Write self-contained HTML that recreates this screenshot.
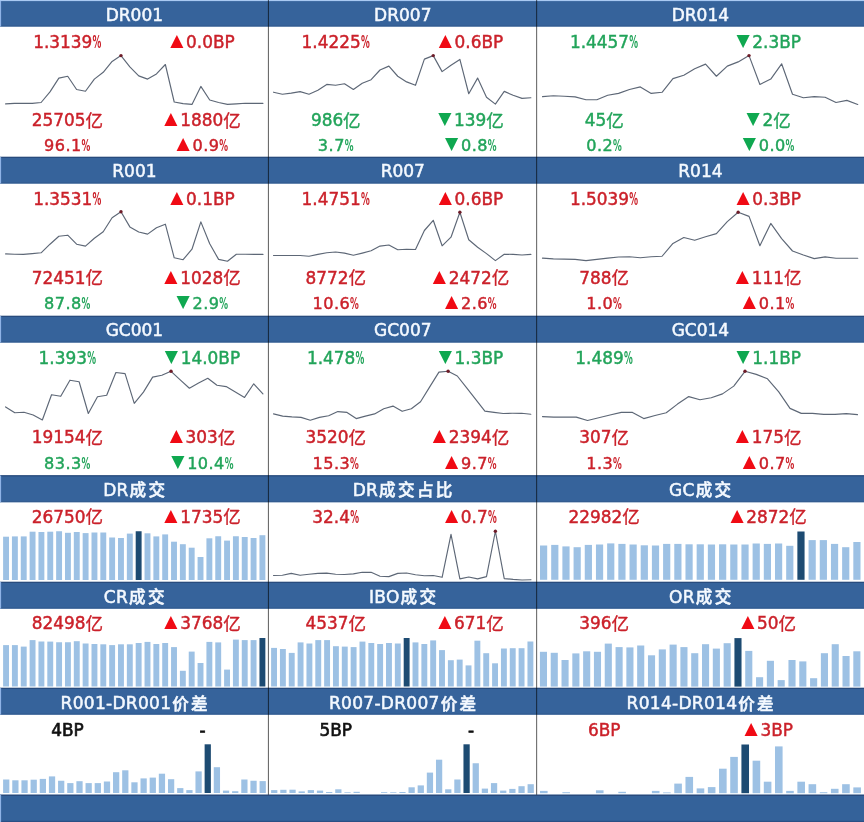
<!DOCTYPE html>
<html lang="zh"><head><meta charset="utf-8"><title>dashboard</title>
<style>
html,body{margin:0;padding:0;background:#fff;}
svg{display:block;font-family:"Liberation Sans","Noto Sans CJK SC",sans-serif;}
</style></head><body>
<svg width="864" height="822" viewBox="0 0 864 822">
<rect x="0" y="0" width="864" height="822" fill="#ffffff"/>
<rect x="0" y="0" width="864" height="26.50" fill="#36639b"/>
<rect x="0" y="25.30" width="864" height="1.2" fill="#335c90"/>
<rect x="0" y="157" width="864" height="26.50" fill="#36639b"/>
<rect x="0" y="156.70" width="864" height="1.2" fill="#27497a"/>
<rect x="0" y="182.30" width="864" height="1.2" fill="#335c90"/>
<rect x="0" y="316" width="864" height="26.50" fill="#36639b"/>
<rect x="0" y="315.70" width="864" height="1.2" fill="#27497a"/>
<rect x="0" y="341.30" width="864" height="1.2" fill="#335c90"/>
<rect x="0" y="475.5" width="864" height="26.70" fill="#36639b"/>
<rect x="0" y="475.20" width="864" height="1.2" fill="#27497a"/>
<rect x="0" y="501.00" width="864" height="1.2" fill="#335c90"/>
<rect x="0" y="582" width="864" height="26.60" fill="#36639b"/>
<rect x="0" y="581.70" width="864" height="1.2" fill="#27497a"/>
<rect x="0" y="607.40" width="864" height="1.2" fill="#335c90"/>
<rect x="0" y="688" width="864" height="26.60" fill="#36639b"/>
<rect x="0" y="687.70" width="864" height="1.2" fill="#27497a"/>
<rect x="0" y="713.40" width="864" height="1.2" fill="#335c90"/>
<rect x="0" y="0" width="864" height="1.1" fill="#a9c9f2"/>
<rect x="0" y="794.8" width="864" height="27.20" fill="#34629a"/>
<rect x="0" y="794.60" width="864" height="1.3" fill="#27497a"/>
<rect x="0" y="820.8" width="864" height="1.2" fill="#2a4f85"/>
<rect x="0" y="1.00" width="1.1" height="25.50" fill="#8fb3e6"/>
<rect x="0" y="157.00" width="1.1" height="26.50" fill="#8fb3e6"/>
<rect x="0" y="316.00" width="1.1" height="26.50" fill="#8fb3e6"/>
<rect x="0" y="475.50" width="1.1" height="26.70" fill="#8fb3e6"/>
<rect x="0" y="582.00" width="1.1" height="26.60" fill="#8fb3e6"/>
<rect x="0" y="688.00" width="1.1" height="26.60" fill="#8fb3e6"/>
<rect x="0" y="794.80" width="1.1" height="27.20" fill="#8fb3e6"/>
<text x="134.4" y="20.7" text-anchor="middle" fill="#f4f9ff" stroke="#f4f9ff" stroke-width="0.5" font-family="'Liberation Sans','Noto Sans CJK SC',sans-serif"><tspan font-size="17.0" letter-spacing="0.0" font-family="'DejaVu Sans','Liberation Sans',sans-serif">DR001</tspan></text>
<text x="402.8" y="20.7" text-anchor="middle" fill="#f4f9ff" stroke="#f4f9ff" stroke-width="0.5" font-family="'Liberation Sans','Noto Sans CJK SC',sans-serif"><tspan font-size="17.0" letter-spacing="0.0" font-family="'DejaVu Sans','Liberation Sans',sans-serif">DR007</tspan></text>
<text x="700.4" y="20.7" text-anchor="middle" fill="#f4f9ff" stroke="#f4f9ff" stroke-width="0.5" font-family="'Liberation Sans','Noto Sans CJK SC',sans-serif"><tspan font-size="17.0" letter-spacing="0.0" font-family="'DejaVu Sans','Liberation Sans',sans-serif">DR014</tspan></text>
<text x="134.4" y="177.3" text-anchor="middle" fill="#f4f9ff" stroke="#f4f9ff" stroke-width="0.5" font-family="'Liberation Sans','Noto Sans CJK SC',sans-serif"><tspan font-size="17.0" letter-spacing="0.0" font-family="'DejaVu Sans','Liberation Sans',sans-serif">R001</tspan></text>
<text x="402.8" y="177.3" text-anchor="middle" fill="#f4f9ff" stroke="#f4f9ff" stroke-width="0.5" font-family="'Liberation Sans','Noto Sans CJK SC',sans-serif"><tspan font-size="17.0" letter-spacing="0.0" font-family="'DejaVu Sans','Liberation Sans',sans-serif">R007</tspan></text>
<text x="700.4" y="177.3" text-anchor="middle" fill="#f4f9ff" stroke="#f4f9ff" stroke-width="0.5" font-family="'Liberation Sans','Noto Sans CJK SC',sans-serif"><tspan font-size="17.0" letter-spacing="0.0" font-family="'DejaVu Sans','Liberation Sans',sans-serif">R014</tspan></text>
<text x="134.4" y="336.3" text-anchor="middle" fill="#f4f9ff" stroke="#f4f9ff" stroke-width="0.5" font-family="'Liberation Sans','Noto Sans CJK SC',sans-serif"><tspan font-size="17.0" letter-spacing="0.0" font-family="'DejaVu Sans','Liberation Sans',sans-serif">GC001</tspan></text>
<text x="402.8" y="336.3" text-anchor="middle" fill="#f4f9ff" stroke="#f4f9ff" stroke-width="0.5" font-family="'Liberation Sans','Noto Sans CJK SC',sans-serif"><tspan font-size="17.0" letter-spacing="0.0" font-family="'DejaVu Sans','Liberation Sans',sans-serif">GC007</tspan></text>
<text x="700.4" y="336.3" text-anchor="middle" fill="#f4f9ff" stroke="#f4f9ff" stroke-width="0.5" font-family="'Liberation Sans','Noto Sans CJK SC',sans-serif"><tspan font-size="17.0" letter-spacing="0.0" font-family="'DejaVu Sans','Liberation Sans',sans-serif">GC014</tspan></text>
<text x="135.3" y="495.7" text-anchor="middle" fill="#f4f9ff" stroke="#f4f9ff" stroke-width="0.5" font-family="'Liberation Sans','Noto Sans CJK SC',sans-serif"><tspan font-size="17.0" letter-spacing="0.3" font-family="'DejaVu Sans','Liberation Sans',sans-serif">DR</tspan><tspan font-size="16.6" font-weight="500" letter-spacing="2.3" dx="0.9" dy="0.4" font-family="'Liberation Sans','Noto Sans CJK SC',sans-serif">成交</tspan></text>
<text x="403.7" y="495.7" text-anchor="middle" fill="#f4f9ff" stroke="#f4f9ff" stroke-width="0.5" font-family="'Liberation Sans','Noto Sans CJK SC',sans-serif"><tspan font-size="17.0" letter-spacing="0.3" font-family="'DejaVu Sans','Liberation Sans',sans-serif">DR</tspan><tspan font-size="16.6" font-weight="500" letter-spacing="2.3" dx="0.9" dy="0.4" font-family="'Liberation Sans','Noto Sans CJK SC',sans-serif">成交占比</tspan></text>
<text x="701.3" y="495.7" text-anchor="middle" fill="#f4f9ff" stroke="#f4f9ff" stroke-width="0.5" font-family="'Liberation Sans','Noto Sans CJK SC',sans-serif"><tspan font-size="17.0" letter-spacing="0.3" font-family="'DejaVu Sans','Liberation Sans',sans-serif">GC</tspan><tspan font-size="16.6" font-weight="500" letter-spacing="2.3" dx="0.9" dy="0.4" font-family="'Liberation Sans','Noto Sans CJK SC',sans-serif">成交</tspan></text>
<text x="135.3" y="602.9" text-anchor="middle" fill="#f4f9ff" stroke="#f4f9ff" stroke-width="0.5" font-family="'Liberation Sans','Noto Sans CJK SC',sans-serif"><tspan font-size="17.0" letter-spacing="0.3" font-family="'DejaVu Sans','Liberation Sans',sans-serif">CR</tspan><tspan font-size="16.6" font-weight="500" letter-spacing="2.3" dx="0.9" dy="0.4" font-family="'Liberation Sans','Noto Sans CJK SC',sans-serif">成交</tspan></text>
<text x="403.7" y="602.9" text-anchor="middle" fill="#f4f9ff" stroke="#f4f9ff" stroke-width="0.5" font-family="'Liberation Sans','Noto Sans CJK SC',sans-serif"><tspan font-size="17.0" letter-spacing="0.3" font-family="'DejaVu Sans','Liberation Sans',sans-serif">IBO</tspan><tspan font-size="16.6" font-weight="500" letter-spacing="2.3" dx="0.9" dy="0.4" font-family="'Liberation Sans','Noto Sans CJK SC',sans-serif">成交</tspan></text>
<text x="701.3" y="602.9" text-anchor="middle" fill="#f4f9ff" stroke="#f4f9ff" stroke-width="0.5" font-family="'Liberation Sans','Noto Sans CJK SC',sans-serif"><tspan font-size="17.0" letter-spacing="0.3" font-family="'DejaVu Sans','Liberation Sans',sans-serif">OR</tspan><tspan font-size="16.6" font-weight="500" letter-spacing="2.3" dx="0.9" dy="0.4" font-family="'Liberation Sans','Noto Sans CJK SC',sans-serif">成交</tspan></text>
<text x="135.3" y="709.1" text-anchor="middle" fill="#f4f9ff" stroke="#f4f9ff" stroke-width="0.5" font-family="'Liberation Sans','Noto Sans CJK SC',sans-serif"><tspan font-size="17.0" letter-spacing="0.3" font-family="'DejaVu Sans','Liberation Sans',sans-serif">R001-DR001</tspan><tspan font-size="16.6" font-weight="500" letter-spacing="2.3" dx="0.9" dy="0.4" font-family="'Liberation Sans','Noto Sans CJK SC',sans-serif">价差</tspan></text>
<text x="403.7" y="709.1" text-anchor="middle" fill="#f4f9ff" stroke="#f4f9ff" stroke-width="0.5" font-family="'Liberation Sans','Noto Sans CJK SC',sans-serif"><tspan font-size="17.0" letter-spacing="0.3" font-family="'DejaVu Sans','Liberation Sans',sans-serif">R007-DR007</tspan><tspan font-size="16.6" font-weight="500" letter-spacing="2.3" dx="0.9" dy="0.4" font-family="'Liberation Sans','Noto Sans CJK SC',sans-serif">价差</tspan></text>
<text x="701.3" y="709.1" text-anchor="middle" fill="#f4f9ff" stroke="#f4f9ff" stroke-width="0.5" font-family="'Liberation Sans','Noto Sans CJK SC',sans-serif"><tspan font-size="17.0" letter-spacing="0.3" font-family="'DejaVu Sans','Liberation Sans',sans-serif">R014-DR014</tspan><tspan font-size="16.6" font-weight="500" letter-spacing="2.3" dx="0.9" dy="0.4" font-family="'Liberation Sans','Noto Sans CJK SC',sans-serif">价差</tspan></text>
<rect x="267.90" y="0" width="1.0" height="794.8" fill="#000000" fill-opacity="0.64"/>
<rect x="536.15" y="0" width="1.0" height="794.8" fill="#000000" fill-opacity="0.64"/>
<rect x="3.10" y="536.70" width="5.9" height="43.30" fill="#9dc1e4"/>
<rect x="11.94" y="536.40" width="5.9" height="43.60" fill="#9dc1e4"/>
<rect x="20.78" y="536.40" width="5.9" height="43.60" fill="#9dc1e4"/>
<rect x="29.62" y="531.70" width="5.9" height="48.30" fill="#9dc1e4"/>
<rect x="38.46" y="532.00" width="5.9" height="48.00" fill="#9dc1e4"/>
<rect x="47.30" y="531.70" width="5.9" height="48.30" fill="#9dc1e4"/>
<rect x="56.14" y="531.25" width="5.9" height="48.75" fill="#9dc1e4"/>
<rect x="64.98" y="532.80" width="5.9" height="47.20" fill="#9dc1e4"/>
<rect x="73.82" y="532.00" width="5.9" height="48.00" fill="#9dc1e4"/>
<rect x="82.66" y="533.10" width="5.9" height="46.90" fill="#9dc1e4"/>
<rect x="91.50" y="532.50" width="5.9" height="47.50" fill="#9dc1e4"/>
<rect x="100.34" y="532.50" width="5.9" height="47.50" fill="#9dc1e4"/>
<rect x="109.18" y="537.50" width="5.9" height="42.50" fill="#9dc1e4"/>
<rect x="118.02" y="538.00" width="5.9" height="42.00" fill="#9dc1e4"/>
<rect x="126.86" y="533.60" width="5.9" height="46.40" fill="#9dc1e4"/>
<rect x="135.70" y="531.25" width="5.9" height="48.75" fill="#1d4b72"/>
<rect x="144.54" y="533.30" width="5.9" height="46.70" fill="#9dc1e4"/>
<rect x="153.38" y="536.40" width="5.9" height="43.60" fill="#9dc1e4"/>
<rect x="162.22" y="534.40" width="5.9" height="45.60" fill="#9dc1e4"/>
<rect x="171.06" y="541.70" width="5.9" height="38.30" fill="#9dc1e4"/>
<rect x="179.90" y="544.20" width="5.9" height="35.80" fill="#9dc1e4"/>
<rect x="188.74" y="547.70" width="5.9" height="32.30" fill="#9dc1e4"/>
<rect x="197.58" y="557.00" width="5.9" height="23.00" fill="#9dc1e4"/>
<rect x="206.42" y="538.30" width="5.9" height="41.70" fill="#9dc1e4"/>
<rect x="215.26" y="536.25" width="5.9" height="43.75" fill="#9dc1e4"/>
<rect x="224.10" y="540.60" width="5.9" height="39.40" fill="#9dc1e4"/>
<rect x="232.94" y="536.25" width="5.9" height="43.75" fill="#9dc1e4"/>
<rect x="241.78" y="537.00" width="5.9" height="43.00" fill="#9dc1e4"/>
<rect x="250.62" y="538.00" width="5.9" height="42.00" fill="#9dc1e4"/>
<rect x="259.46" y="535.20" width="5.9" height="44.80" fill="#9dc1e4"/>
<rect x="540.00" y="545.50" width="7.2" height="34.30" fill="#9dc1e4"/>
<rect x="551.19" y="544.90" width="7.2" height="34.90" fill="#9dc1e4"/>
<rect x="562.38" y="546.40" width="7.2" height="33.40" fill="#9dc1e4"/>
<rect x="573.57" y="547.20" width="7.2" height="32.60" fill="#9dc1e4"/>
<rect x="584.76" y="544.90" width="7.2" height="34.90" fill="#9dc1e4"/>
<rect x="595.95" y="544.50" width="7.2" height="35.30" fill="#9dc1e4"/>
<rect x="607.14" y="543.40" width="7.2" height="36.40" fill="#9dc1e4"/>
<rect x="618.33" y="543.90" width="7.2" height="35.90" fill="#9dc1e4"/>
<rect x="629.52" y="544.50" width="7.2" height="35.30" fill="#9dc1e4"/>
<rect x="640.71" y="545.30" width="7.2" height="34.50" fill="#9dc1e4"/>
<rect x="651.90" y="545.50" width="7.2" height="34.30" fill="#9dc1e4"/>
<rect x="663.09" y="543.90" width="7.2" height="35.90" fill="#9dc1e4"/>
<rect x="674.28" y="543.90" width="7.2" height="35.90" fill="#9dc1e4"/>
<rect x="685.47" y="544.30" width="7.2" height="35.50" fill="#9dc1e4"/>
<rect x="696.66" y="544.30" width="7.2" height="35.50" fill="#9dc1e4"/>
<rect x="707.85" y="544.50" width="7.2" height="35.30" fill="#9dc1e4"/>
<rect x="719.04" y="544.30" width="7.2" height="35.50" fill="#9dc1e4"/>
<rect x="730.23" y="544.50" width="7.2" height="35.30" fill="#9dc1e4"/>
<rect x="741.42" y="544.50" width="7.2" height="35.30" fill="#9dc1e4"/>
<rect x="752.61" y="543.50" width="7.2" height="36.30" fill="#9dc1e4"/>
<rect x="763.80" y="543.90" width="7.2" height="35.90" fill="#9dc1e4"/>
<rect x="774.99" y="543.50" width="7.2" height="36.30" fill="#9dc1e4"/>
<rect x="786.18" y="545.80" width="7.2" height="34.00" fill="#9dc1e4"/>
<rect x="797.37" y="531.50" width="7.2" height="48.30" fill="#1d4b72"/>
<rect x="808.56" y="540.10" width="7.2" height="39.70" fill="#9dc1e4"/>
<rect x="819.75" y="540.10" width="7.2" height="39.70" fill="#9dc1e4"/>
<rect x="830.94" y="543.90" width="7.2" height="35.90" fill="#9dc1e4"/>
<rect x="842.13" y="547.20" width="7.2" height="32.60" fill="#9dc1e4"/>
<rect x="853.32" y="542.00" width="7.2" height="37.80" fill="#9dc1e4"/>
<rect x="3.10" y="645.10" width="5.9" height="41.40" fill="#9dc1e4"/>
<rect x="11.94" y="645.10" width="5.9" height="41.40" fill="#9dc1e4"/>
<rect x="20.78" y="646.60" width="5.9" height="39.90" fill="#9dc1e4"/>
<rect x="29.62" y="640.10" width="5.9" height="46.40" fill="#9dc1e4"/>
<rect x="38.46" y="641.50" width="5.9" height="45.00" fill="#9dc1e4"/>
<rect x="47.30" y="641.60" width="5.9" height="44.90" fill="#9dc1e4"/>
<rect x="56.14" y="642.25" width="5.9" height="44.25" fill="#9dc1e4"/>
<rect x="64.98" y="642.25" width="5.9" height="44.25" fill="#9dc1e4"/>
<rect x="73.82" y="641.20" width="5.9" height="45.30" fill="#9dc1e4"/>
<rect x="82.66" y="643.50" width="5.9" height="43.00" fill="#9dc1e4"/>
<rect x="91.50" y="644.00" width="5.9" height="42.50" fill="#9dc1e4"/>
<rect x="100.34" y="644.30" width="5.9" height="42.20" fill="#9dc1e4"/>
<rect x="109.18" y="645.10" width="5.9" height="41.40" fill="#9dc1e4"/>
<rect x="118.02" y="644.30" width="5.9" height="42.20" fill="#9dc1e4"/>
<rect x="126.86" y="644.30" width="5.9" height="42.20" fill="#9dc1e4"/>
<rect x="135.70" y="643.00" width="5.9" height="43.50" fill="#9dc1e4"/>
<rect x="144.54" y="641.90" width="5.9" height="44.60" fill="#9dc1e4"/>
<rect x="153.38" y="644.00" width="5.9" height="42.50" fill="#9dc1e4"/>
<rect x="162.22" y="643.00" width="5.9" height="43.50" fill="#9dc1e4"/>
<rect x="171.06" y="647.10" width="5.9" height="39.40" fill="#9dc1e4"/>
<rect x="179.90" y="670.80" width="5.9" height="15.70" fill="#9dc1e4"/>
<rect x="188.74" y="651.60" width="5.9" height="34.90" fill="#9dc1e4"/>
<rect x="197.58" y="663.00" width="5.9" height="23.50" fill="#9dc1e4"/>
<rect x="206.42" y="641.90" width="5.9" height="44.60" fill="#9dc1e4"/>
<rect x="215.26" y="642.40" width="5.9" height="44.10" fill="#9dc1e4"/>
<rect x="224.10" y="669.60" width="5.9" height="16.90" fill="#9dc1e4"/>
<rect x="232.94" y="639.60" width="5.9" height="46.90" fill="#9dc1e4"/>
<rect x="241.78" y="640.10" width="5.9" height="46.40" fill="#9dc1e4"/>
<rect x="250.62" y="640.10" width="5.9" height="46.40" fill="#9dc1e4"/>
<rect x="259.46" y="638.00" width="5.9" height="48.50" fill="#1d4b72"/>
<rect x="271.10" y="647.90" width="5.9" height="38.60" fill="#9dc1e4"/>
<rect x="279.94" y="649.00" width="5.9" height="37.50" fill="#9dc1e4"/>
<rect x="288.78" y="652.90" width="5.9" height="33.60" fill="#9dc1e4"/>
<rect x="297.62" y="642.40" width="5.9" height="44.10" fill="#9dc1e4"/>
<rect x="306.46" y="643.50" width="5.9" height="43.00" fill="#9dc1e4"/>
<rect x="315.30" y="640.10" width="5.9" height="46.40" fill="#9dc1e4"/>
<rect x="324.14" y="640.10" width="5.9" height="46.40" fill="#9dc1e4"/>
<rect x="332.98" y="646.20" width="5.9" height="40.30" fill="#9dc1e4"/>
<rect x="341.82" y="646.60" width="5.9" height="39.90" fill="#9dc1e4"/>
<rect x="350.66" y="647.10" width="5.9" height="39.40" fill="#9dc1e4"/>
<rect x="359.50" y="641.60" width="5.9" height="44.90" fill="#9dc1e4"/>
<rect x="368.34" y="643.00" width="5.9" height="43.50" fill="#9dc1e4"/>
<rect x="377.18" y="644.00" width="5.9" height="42.50" fill="#9dc1e4"/>
<rect x="386.02" y="643.00" width="5.9" height="43.50" fill="#9dc1e4"/>
<rect x="394.86" y="643.50" width="5.9" height="43.00" fill="#9dc1e4"/>
<rect x="403.70" y="638.00" width="5.9" height="48.50" fill="#1d4b72"/>
<rect x="412.54" y="642.40" width="5.9" height="44.10" fill="#9dc1e4"/>
<rect x="421.38" y="644.00" width="5.9" height="42.50" fill="#9dc1e4"/>
<rect x="430.22" y="640.40" width="5.9" height="46.10" fill="#9dc1e4"/>
<rect x="439.06" y="650.10" width="5.9" height="36.40" fill="#9dc1e4"/>
<rect x="447.90" y="660.20" width="5.9" height="26.30" fill="#9dc1e4"/>
<rect x="456.74" y="659.60" width="5.9" height="26.90" fill="#9dc1e4"/>
<rect x="465.58" y="665.40" width="5.9" height="21.10" fill="#9dc1e4"/>
<rect x="474.42" y="640.70" width="5.9" height="45.80" fill="#9dc1e4"/>
<rect x="483.26" y="653.20" width="5.9" height="33.30" fill="#9dc1e4"/>
<rect x="492.10" y="663.30" width="5.9" height="23.20" fill="#9dc1e4"/>
<rect x="500.94" y="648.50" width="5.9" height="38.00" fill="#9dc1e4"/>
<rect x="509.78" y="648.20" width="5.9" height="38.30" fill="#9dc1e4"/>
<rect x="518.62" y="648.20" width="5.9" height="38.30" fill="#9dc1e4"/>
<rect x="527.46" y="641.50" width="5.9" height="45.00" fill="#9dc1e4"/>
<rect x="539.90" y="651.80" width="7.1" height="34.80" fill="#9dc1e4"/>
<rect x="550.71" y="652.80" width="7.1" height="33.80" fill="#9dc1e4"/>
<rect x="561.51" y="660.00" width="7.1" height="26.60" fill="#9dc1e4"/>
<rect x="572.32" y="653.40" width="7.1" height="33.20" fill="#9dc1e4"/>
<rect x="583.13" y="651.30" width="7.1" height="35.30" fill="#9dc1e4"/>
<rect x="593.93" y="651.80" width="7.1" height="34.80" fill="#9dc1e4"/>
<rect x="604.74" y="643.60" width="7.1" height="43.00" fill="#9dc1e4"/>
<rect x="615.55" y="647.10" width="7.1" height="39.50" fill="#9dc1e4"/>
<rect x="626.36" y="647.40" width="7.1" height="39.20" fill="#9dc1e4"/>
<rect x="637.16" y="645.50" width="7.1" height="41.10" fill="#9dc1e4"/>
<rect x="647.97" y="655.30" width="7.1" height="31.30" fill="#9dc1e4"/>
<rect x="658.78" y="649.40" width="7.1" height="37.20" fill="#9dc1e4"/>
<rect x="669.58" y="644.60" width="7.1" height="42.00" fill="#9dc1e4"/>
<rect x="680.39" y="647.10" width="7.1" height="39.50" fill="#9dc1e4"/>
<rect x="691.20" y="653.20" width="7.1" height="33.40" fill="#9dc1e4"/>
<rect x="702.00" y="644.20" width="7.1" height="42.40" fill="#9dc1e4"/>
<rect x="712.81" y="648.60" width="7.1" height="38.00" fill="#9dc1e4"/>
<rect x="723.62" y="643.20" width="7.1" height="43.40" fill="#9dc1e4"/>
<rect x="734.43" y="638.10" width="7.1" height="48.50" fill="#1d4b72"/>
<rect x="745.23" y="650.90" width="7.1" height="35.70" fill="#9dc1e4"/>
<rect x="756.04" y="677.20" width="7.1" height="9.40" fill="#9dc1e4"/>
<rect x="766.85" y="660.80" width="7.1" height="25.80" fill="#9dc1e4"/>
<rect x="777.65" y="680.10" width="7.1" height="6.50" fill="#9dc1e4"/>
<rect x="788.46" y="660.00" width="7.1" height="26.60" fill="#9dc1e4"/>
<rect x="799.27" y="661.40" width="7.1" height="25.20" fill="#9dc1e4"/>
<rect x="810.08" y="678.20" width="7.1" height="8.40" fill="#9dc1e4"/>
<rect x="820.88" y="653.20" width="7.1" height="33.40" fill="#9dc1e4"/>
<rect x="831.69" y="644.20" width="7.1" height="42.40" fill="#9dc1e4"/>
<rect x="842.50" y="656.00" width="7.1" height="30.60" fill="#9dc1e4"/>
<rect x="853.30" y="651.30" width="7.1" height="35.30" fill="#9dc1e4"/>
<rect x="3.10" y="779.50" width="6.25" height="13.50" fill="#9dc1e4"/>
<rect x="12.26" y="780.30" width="6.25" height="12.70" fill="#9dc1e4"/>
<rect x="21.42" y="780.30" width="6.25" height="12.70" fill="#9dc1e4"/>
<rect x="30.58" y="779.70" width="6.25" height="13.30" fill="#9dc1e4"/>
<rect x="39.74" y="778.90" width="6.25" height="14.10" fill="#9dc1e4"/>
<rect x="48.90" y="776.40" width="6.25" height="16.60" fill="#9dc1e4"/>
<rect x="58.06" y="780.75" width="6.25" height="12.25" fill="#9dc1e4"/>
<rect x="67.22" y="783.10" width="6.25" height="9.90" fill="#9dc1e4"/>
<rect x="76.38" y="781.20" width="6.25" height="11.80" fill="#9dc1e4"/>
<rect x="85.54" y="783.10" width="6.25" height="9.90" fill="#9dc1e4"/>
<rect x="94.70" y="783.10" width="6.25" height="9.90" fill="#9dc1e4"/>
<rect x="103.86" y="781.50" width="6.25" height="11.50" fill="#9dc1e4"/>
<rect x="113.02" y="772.20" width="6.25" height="20.80" fill="#9dc1e4"/>
<rect x="122.18" y="770.30" width="6.25" height="22.70" fill="#9dc1e4"/>
<rect x="131.34" y="782.30" width="6.25" height="10.70" fill="#9dc1e4"/>
<rect x="140.50" y="778.40" width="6.25" height="14.60" fill="#9dc1e4"/>
<rect x="149.66" y="777.60" width="6.25" height="15.40" fill="#9dc1e4"/>
<rect x="158.82" y="773.70" width="6.25" height="19.30" fill="#9dc1e4"/>
<rect x="167.98" y="779.20" width="6.25" height="13.80" fill="#9dc1e4"/>
<rect x="177.14" y="788.10" width="6.25" height="4.90" fill="#9dc1e4"/>
<rect x="186.30" y="790.10" width="6.25" height="2.90" fill="#9dc1e4"/>
<rect x="195.46" y="771.40" width="6.25" height="21.60" fill="#9dc1e4"/>
<rect x="204.62" y="744.30" width="6.25" height="48.70" fill="#1d4b72"/>
<rect x="213.78" y="767.20" width="6.25" height="25.80" fill="#9dc1e4"/>
<rect x="222.94" y="790.60" width="6.25" height="2.40" fill="#9dc1e4"/>
<rect x="232.10" y="791.20" width="6.25" height="1.80" fill="#9dc1e4"/>
<rect x="241.26" y="779.50" width="6.25" height="13.50" fill="#9dc1e4"/>
<rect x="250.42" y="780.75" width="6.25" height="12.25" fill="#9dc1e4"/>
<rect x="259.58" y="781.10" width="6.25" height="11.90" fill="#9dc1e4"/>
<rect x="271.10" y="790.10" width="6.25" height="2.90" fill="#9dc1e4"/>
<rect x="280.26" y="789.80" width="6.25" height="3.20" fill="#9dc1e4"/>
<rect x="289.42" y="789.70" width="6.25" height="3.30" fill="#9dc1e4"/>
<rect x="298.58" y="791.40" width="6.25" height="1.60" fill="#9dc1e4"/>
<rect x="307.74" y="790.10" width="6.25" height="2.90" fill="#9dc1e4"/>
<rect x="316.90" y="790.60" width="6.25" height="2.40" fill="#9dc1e4"/>
<rect x="326.06" y="792.00" width="6.25" height="1.00" fill="#9dc1e4"/>
<rect x="335.22" y="789.30" width="6.25" height="3.70" fill="#9dc1e4"/>
<rect x="344.38" y="792.30" width="6.25" height="0.70" fill="#9dc1e4"/>
<rect x="353.54" y="791.80" width="6.25" height="1.20" fill="#9dc1e4"/>
<rect x="381.02" y="792.20" width="6.25" height="0.80" fill="#9dc1e4"/>
<rect x="390.18" y="792.30" width="6.25" height="0.70" fill="#9dc1e4"/>
<rect x="399.34" y="792.00" width="6.25" height="1.00" fill="#9dc1e4"/>
<rect x="408.50" y="787.30" width="6.25" height="5.70" fill="#9dc1e4"/>
<rect x="417.66" y="785.40" width="6.25" height="7.60" fill="#9dc1e4"/>
<rect x="426.82" y="772.60" width="6.25" height="20.40" fill="#9dc1e4"/>
<rect x="435.98" y="759.70" width="6.25" height="33.30" fill="#9dc1e4"/>
<rect x="445.14" y="789.30" width="6.25" height="3.70" fill="#9dc1e4"/>
<rect x="454.30" y="779.50" width="6.25" height="13.50" fill="#9dc1e4"/>
<rect x="463.46" y="744.30" width="6.25" height="48.70" fill="#1d4b72"/>
<rect x="472.62" y="763.25" width="6.25" height="29.75" fill="#9dc1e4"/>
<rect x="481.78" y="788.60" width="6.25" height="4.40" fill="#9dc1e4"/>
<rect x="490.94" y="783.10" width="6.25" height="9.90" fill="#9dc1e4"/>
<rect x="500.10" y="790.60" width="6.25" height="2.40" fill="#9dc1e4"/>
<rect x="509.26" y="788.90" width="6.25" height="4.10" fill="#9dc1e4"/>
<rect x="518.42" y="786.20" width="6.25" height="6.80" fill="#9dc1e4"/>
<rect x="527.58" y="784.20" width="6.25" height="8.80" fill="#9dc1e4"/>
<rect x="540.00" y="790.90" width="7.6" height="2.30" fill="#9dc1e4"/>
<rect x="562.38" y="792.20" width="7.6" height="1.00" fill="#9dc1e4"/>
<rect x="595.95" y="790.30" width="7.6" height="2.90" fill="#9dc1e4"/>
<rect x="618.33" y="791.80" width="7.6" height="1.40" fill="#9dc1e4"/>
<rect x="651.90" y="790.90" width="7.6" height="2.30" fill="#9dc1e4"/>
<rect x="663.09" y="792.40" width="7.6" height="0.80" fill="#9dc1e4"/>
<rect x="674.28" y="783.60" width="7.6" height="9.60" fill="#9dc1e4"/>
<rect x="685.47" y="776.90" width="7.6" height="16.30" fill="#9dc1e4"/>
<rect x="696.66" y="788.40" width="7.6" height="4.80" fill="#9dc1e4"/>
<rect x="707.85" y="787.10" width="7.6" height="6.10" fill="#9dc1e4"/>
<rect x="719.04" y="768.70" width="7.6" height="24.50" fill="#9dc1e4"/>
<rect x="730.23" y="756.90" width="7.6" height="36.30" fill="#9dc1e4"/>
<rect x="741.42" y="744.50" width="7.6" height="48.70" fill="#1d4b72"/>
<rect x="752.61" y="760.70" width="7.6" height="32.50" fill="#9dc1e4"/>
<rect x="763.80" y="781.70" width="7.6" height="11.50" fill="#9dc1e4"/>
<rect x="774.99" y="746.40" width="7.6" height="46.80" fill="#9dc1e4"/>
<rect x="786.18" y="790.90" width="7.6" height="2.30" fill="#9dc1e4"/>
<rect x="797.37" y="781.70" width="7.6" height="11.50" fill="#9dc1e4"/>
<rect x="808.56" y="784.20" width="7.6" height="9.00" fill="#9dc1e4"/>
<rect x="819.75" y="792.20" width="7.6" height="1.00" fill="#9dc1e4"/>
<rect x="830.94" y="788.80" width="7.6" height="4.40" fill="#9dc1e4"/>
<rect x="842.13" y="784.20" width="7.6" height="9.00" fill="#9dc1e4"/>
<rect x="853.32" y="787.40" width="7.6" height="5.80" fill="#9dc1e4"/>
<polyline points="5.60,103.90 14.47,103.40 23.35,103.40 32.23,103.40 41.10,102.50 49.98,91.90 58.85,78.10 67.72,76.25 76.60,89.50 85.47,91.25 94.35,79.10 103.22,72.30 112.10,61.40 120.97,55.60 129.85,66.90 138.72,75.90 147.60,79.10 156.47,73.90 165.35,64.50 174.22,102.00 183.10,103.60 191.97,104.40 200.85,86.40 209.72,100.00 218.60,102.50 227.47,104.40 236.35,103.90 245.22,103.30 254.10,103.30 262.98,103.30" fill="none" stroke="#5d6776" stroke-width="1.15" stroke-linejoin="round" stroke-linecap="round"/>
<circle cx="120.97" cy="55.60" r="1.7" fill="#6e1c28"/>
<polyline points="273.50,92.20 282.38,94.20 291.25,93.10 300.12,91.60 309.00,94.20 317.88,90.30 326.75,84.40 335.62,85.30 344.50,83.75 353.38,89.50 362.25,83.30 371.12,79.70 380.00,70.00 388.88,66.10 397.75,76.25 406.62,81.90 415.50,85.30 424.38,59.10 433.25,55.60 442.12,71.60 451.00,65.30 459.88,59.40 468.75,93.75 477.62,78.10 486.50,97.30 495.38,104.10 504.25,91.40 513.12,95.30 522.00,98.40 530.88,97.80" fill="none" stroke="#5d6776" stroke-width="1.15" stroke-linejoin="round" stroke-linecap="round"/>
<circle cx="433.25" cy="55.60" r="1.7" fill="#6e1c28"/>
<polyline points="542.50,96.60 553.37,95.80 564.24,96.25 575.11,96.90 585.98,99.70 596.85,99.70 607.72,95.30 618.59,93.40 629.46,89.50 640.33,86.90 651.20,93.40 662.07,92.30 672.94,78.60 683.81,75.20 694.68,68.75 705.55,64.10 716.42,76.25 727.29,66.10 738.16,61.90 749.03,55.60 759.90,84.50 770.77,79.10 781.64,63.80 792.51,94.30 803.38,97.80 814.25,96.60 825.12,97.20 835.99,102.50 846.86,100.40 857.73,104.50" fill="none" stroke="#5d6776" stroke-width="1.15" stroke-linejoin="round" stroke-linecap="round"/>
<circle cx="749.03" cy="55.60" r="1.7" fill="#6e1c28"/>
<polyline points="5.60,253.90 14.47,254.20 23.35,254.40 32.23,253.60 41.10,252.80 49.98,244.20 58.85,236.25 67.72,235.20 76.60,244.20 85.47,246.10 94.35,238.30 103.22,231.70 112.10,217.70 120.97,211.70 129.85,226.90 138.72,232.00 147.60,234.10 156.47,227.80 165.35,224.20 174.22,257.80 183.10,259.70 191.97,249.20 200.85,221.90 209.72,243.75 218.60,259.40 227.47,261.25 236.35,254.20 245.22,254.20 254.10,254.40 262.98,254.40" fill="none" stroke="#5d6776" stroke-width="1.15" stroke-linejoin="round" stroke-linecap="round"/>
<circle cx="120.97" cy="211.70" r="1.7" fill="#6e1c28"/>
<polyline points="273.50,255.50 282.38,255.50 291.25,255.50 300.12,255.50 309.00,256.25 317.88,254.40 326.75,252.80 335.62,252.00 344.50,253.10 353.38,255.20 362.25,253.10 371.12,250.80 380.00,246.10 388.88,245.00 397.75,249.70 406.62,249.20 415.50,249.50 424.38,230.50 433.25,220.30 442.12,245.80 451.00,237.20 459.88,212.20 468.75,239.80 477.62,247.30 486.50,253.60 495.38,260.60 504.25,254.20 513.12,254.40 522.00,255.00 530.88,254.40" fill="none" stroke="#5d6776" stroke-width="1.15" stroke-linejoin="round" stroke-linecap="round"/>
<circle cx="459.88" cy="212.20" r="1.7" fill="#6e1c28"/>
<polyline points="542.50,258.10 553.37,258.90 564.24,259.10 575.11,259.40 585.98,260.60 596.85,259.40 607.72,258.10 618.59,257.00 629.46,256.70 640.33,257.80 651.20,256.70 662.07,256.25 672.94,243.40 683.81,237.50 694.68,240.30 705.55,236.70 716.42,233.60 727.29,221.60 738.16,212.20 749.03,216.40 759.90,245.70 770.77,223.40 781.64,238.60 792.51,251.00 803.38,255.00 814.25,258.60 825.12,256.90 835.99,258.20 846.86,258.20 857.73,258.20" fill="none" stroke="#5d6776" stroke-width="1.15" stroke-linejoin="round" stroke-linecap="round"/>
<circle cx="738.16" cy="212.20" r="1.7" fill="#6e1c28"/>
<polyline points="5.60,406.90 14.79,412.70 23.98,412.20 33.17,415.00 42.36,420.00 51.55,394.70 60.74,396.30 69.93,380.20 79.12,381.75 88.31,413.50 97.50,396.75 106.69,395.20 115.88,372.50 125.07,373.60 134.26,403.30 143.45,392.10 152.64,377.10 161.83,375.20 171.02,371.30 180.21,379.90 189.40,388.20 198.59,383.00 207.78,378.30 216.97,385.30 226.16,386.60 235.35,391.90 244.54,397.40 253.73,383.80 262.92,393.90" fill="none" stroke="#5d6776" stroke-width="1.15" stroke-linejoin="round" stroke-linecap="round"/>
<circle cx="171.02" cy="371.30" r="1.7" fill="#6e1c28"/>
<polyline points="273.50,413.90 282.69,416.10 291.88,416.90 301.07,417.40 310.26,420.20 319.45,417.40 328.64,415.80 337.83,411.60 347.02,412.40 356.21,418.60 365.40,416.10 374.59,413.90 383.78,408.80 392.97,406.10 402.16,411.30 411.35,408.80 420.54,401.75 429.73,386.90 438.92,372.10 448.11,371.30 457.30,376.00 466.49,387.70 475.68,399.40 484.87,411.10 494.06,412.40 503.25,413.50 512.44,413.30 521.63,413.30 530.82,414.25" fill="none" stroke="#5d6776" stroke-width="1.15" stroke-linejoin="round" stroke-linecap="round"/>
<circle cx="448.11" cy="371.30" r="1.7" fill="#6e1c28"/>
<polyline points="542.50,416.60 553.75,417.10 565.00,417.10 576.25,417.10 587.50,420.50 598.75,417.80 610.00,415.00 621.25,412.40 632.50,412.40 643.75,418.60 655.00,415.50 666.25,412.70 677.50,404.10 688.75,396.60 700.00,399.70 711.25,397.80 722.50,393.90 733.75,386.10 745.00,371.30 756.25,374.40 767.50,378.80 778.75,391.90 790.00,408.40 801.25,413.40 812.50,413.40 823.75,414.40 835.00,414.40 846.25,413.60 857.50,414.65" fill="none" stroke="#5d6776" stroke-width="1.15" stroke-linejoin="round" stroke-linecap="round"/>
<circle cx="745.00" cy="371.30" r="1.7" fill="#6e1c28"/>
<polyline points="273.50,575.50 282.38,575.30 291.25,573.40 300.12,575.30 309.00,574.20 317.88,573.40 326.75,573.10 335.62,574.20 344.50,574.50 353.38,573.90 362.25,572.30 371.12,572.30 380.00,576.25 388.88,576.60 397.75,573.40 406.62,573.00 415.50,574.70 424.38,575.80 433.25,575.50 442.12,577.30 451.00,534.40 459.88,578.90 468.75,577.00 477.62,578.90 486.50,576.60 495.38,531.25 504.25,578.60 513.12,579.40 522.00,580.00 530.88,579.70" fill="none" stroke="#5d6776" stroke-width="1.15" stroke-linejoin="round" stroke-linecap="round"/>
<circle cx="495.38" cy="531.25" r="1.7" fill="#6e1c28"/>
<text font-size="16.9" font-family="'DejaVu Sans','Liberation Sans',sans-serif" fill="#cb212a" stroke="#cb212a" stroke-width="0.45"><tspan x="33.14" y="47.80" textLength="59.12" lengthAdjust="spacing">1.3139</tspan><tspan x="92.56" y="47.80" font-weight="bold" stroke="none" textLength="8.80" lengthAdjust="spacingAndGlyphs">%</tspan></text>
<text font-size="16.9" font-family="'DejaVu Sans','Liberation Sans',sans-serif" fill="#cb212a" stroke="#cb212a" stroke-width="0.45"><tspan x="170.22" y="45.70" font-family="'DejaVu Sans',sans-serif" font-size="17.2" textLength="13.20" lengthAdjust="spacingAndGlyphs" fill="#f00a14" stroke="none">▲</tspan><tspan x="186.12" y="47.80" textLength="26.87" lengthAdjust="spacing">0.0</tspan><tspan x="212.99" y="47.80" textLength="21.78" lengthAdjust="spacing">BP</tspan></text>
<text font-size="16.9" font-family="'DejaVu Sans','Liberation Sans',sans-serif" fill="#cb212a" stroke="#cb212a" stroke-width="0.45"><tspan x="31.73" y="126.20" textLength="53.74" lengthAdjust="spacing">25705</tspan><tspan x="85.47" y="126.80" font-size="17.6" stroke-width="0.32" font-family="'Liberation Sans','Noto Sans CJK SC',sans-serif">亿</tspan></text>
<text font-size="16.9" font-family="'DejaVu Sans','Liberation Sans',sans-serif" fill="#cb212a" stroke="#cb212a" stroke-width="0.45"><tspan x="164.25" y="124.10" font-family="'DejaVu Sans',sans-serif" font-size="17.2" textLength="13.20" lengthAdjust="spacingAndGlyphs" fill="#f00a14" stroke="none">▲</tspan><tspan x="180.15" y="126.20" textLength="42.99" lengthAdjust="spacing">1880</tspan><tspan x="223.15" y="126.80" font-size="17.6" stroke-width="0.32" font-family="'Liberation Sans','Noto Sans CJK SC',sans-serif">亿</tspan></text>
<text font-size="16.1" font-family="'DejaVu Sans','Liberation Sans',sans-serif" fill="#cb212a" stroke="#cb212a" stroke-width="0.45"><tspan x="44.08" y="151.20" textLength="37.24" lengthAdjust="spacing">96.1</tspan><tspan x="81.62" y="151.20" font-weight="bold" stroke="none" textLength="8.80" lengthAdjust="spacingAndGlyphs">%</tspan></text>
<text font-size="16.1" font-family="'DejaVu Sans','Liberation Sans',sans-serif" fill="#cb212a" stroke="#cb212a" stroke-width="0.45"><tspan x="176.55" y="149.10" font-family="'DejaVu Sans',sans-serif" font-size="17.2" textLength="13.20" lengthAdjust="spacingAndGlyphs" fill="#f00a14" stroke="none">▲</tspan><tspan x="192.45" y="151.20" textLength="26.60" lengthAdjust="spacing">0.9</tspan><tspan x="219.35" y="151.20" font-weight="bold" stroke="none" textLength="8.80" lengthAdjust="spacingAndGlyphs">%</tspan></text>
<text font-size="16.9" font-family="'DejaVu Sans','Liberation Sans',sans-serif" fill="#cb212a" stroke="#cb212a" stroke-width="0.45"><tspan x="301.54" y="47.80" textLength="59.12" lengthAdjust="spacing">1.4225</tspan><tspan x="360.96" y="47.80" font-weight="bold" stroke="none" textLength="8.80" lengthAdjust="spacingAndGlyphs">%</tspan></text>
<text font-size="16.9" font-family="'DejaVu Sans','Liberation Sans',sans-serif" fill="#cb212a" stroke="#cb212a" stroke-width="0.45"><tspan x="438.72" y="45.70" font-family="'DejaVu Sans',sans-serif" font-size="17.2" textLength="13.20" lengthAdjust="spacingAndGlyphs" fill="#f00a14" stroke="none">▲</tspan><tspan x="454.62" y="47.80" textLength="26.87" lengthAdjust="spacing">0.6</tspan><tspan x="481.49" y="47.80" textLength="21.78" lengthAdjust="spacing">BP</tspan></text>
<text font-size="16.9" font-family="'DejaVu Sans','Liberation Sans',sans-serif" fill="#22a45a" stroke="#22a45a" stroke-width="0.45"><tspan x="310.88" y="126.20" textLength="32.25" lengthAdjust="spacing">986</tspan><tspan x="343.12" y="126.80" font-size="17.6" stroke-width="0.32" font-family="'Liberation Sans','Noto Sans CJK SC',sans-serif">亿</tspan></text>
<text font-size="16.9" font-family="'DejaVu Sans','Liberation Sans',sans-serif" fill="#22a45a" stroke="#22a45a" stroke-width="0.45"><tspan x="438.13" y="124.10" font-family="'DejaVu Sans',sans-serif" font-size="17.2" textLength="13.20" lengthAdjust="spacingAndGlyphs" fill="#0fa850" stroke="none">▼</tspan><tspan x="454.03" y="126.20" textLength="32.25" lengthAdjust="spacing">139</tspan><tspan x="486.27" y="126.80" font-size="17.6" stroke-width="0.32" font-family="'Liberation Sans','Noto Sans CJK SC',sans-serif">亿</tspan></text>
<text font-size="16.1" font-family="'DejaVu Sans','Liberation Sans',sans-serif" fill="#22a45a" stroke="#22a45a" stroke-width="0.45"><tspan x="317.80" y="151.20" textLength="26.60" lengthAdjust="spacing">3.7</tspan><tspan x="344.70" y="151.20" font-weight="bold" stroke="none" textLength="8.80" lengthAdjust="spacingAndGlyphs">%</tspan></text>
<text font-size="16.1" font-family="'DejaVu Sans','Liberation Sans',sans-serif" fill="#22a45a" stroke="#22a45a" stroke-width="0.45"><tspan x="445.05" y="149.10" font-family="'DejaVu Sans',sans-serif" font-size="17.2" textLength="13.20" lengthAdjust="spacingAndGlyphs" fill="#0fa850" stroke="none">▼</tspan><tspan x="460.95" y="151.20" textLength="26.60" lengthAdjust="spacing">0.8</tspan><tspan x="487.85" y="151.20" font-weight="bold" stroke="none" textLength="8.80" lengthAdjust="spacingAndGlyphs">%</tspan></text>
<text font-size="16.9" font-family="'DejaVu Sans','Liberation Sans',sans-serif" fill="#22a45a" stroke="#22a45a" stroke-width="0.45"><tspan x="569.94" y="47.80" textLength="59.12" lengthAdjust="spacing">1.4457</tspan><tspan x="629.36" y="47.80" font-weight="bold" stroke="none" textLength="8.80" lengthAdjust="spacingAndGlyphs">%</tspan></text>
<text font-size="16.9" font-family="'DejaVu Sans','Liberation Sans',sans-serif" fill="#22a45a" stroke="#22a45a" stroke-width="0.45"><tspan x="736.42" y="45.70" font-family="'DejaVu Sans',sans-serif" font-size="17.2" textLength="13.20" lengthAdjust="spacingAndGlyphs" fill="#0fa850" stroke="none">▼</tspan><tspan x="752.32" y="47.80" textLength="26.87" lengthAdjust="spacing">2.3</tspan><tspan x="779.19" y="47.80" textLength="21.78" lengthAdjust="spacing">BP</tspan></text>
<text font-size="16.9" font-family="'DejaVu Sans','Liberation Sans',sans-serif" fill="#22a45a" stroke="#22a45a" stroke-width="0.45"><tspan x="584.65" y="126.20" textLength="21.50" lengthAdjust="spacing">45</tspan><tspan x="606.15" y="126.80" font-size="17.6" stroke-width="0.32" font-family="'Liberation Sans','Noto Sans CJK SC',sans-serif">亿</tspan></text>
<text font-size="16.9" font-family="'DejaVu Sans','Liberation Sans',sans-serif" fill="#22a45a" stroke="#22a45a" stroke-width="0.45"><tspan x="746.58" y="124.10" font-family="'DejaVu Sans',sans-serif" font-size="17.2" textLength="13.20" lengthAdjust="spacingAndGlyphs" fill="#0fa850" stroke="none">▼</tspan><tspan x="762.48" y="126.20" textLength="10.75" lengthAdjust="spacing">2</tspan><tspan x="773.22" y="126.80" font-size="17.6" stroke-width="0.32" font-family="'Liberation Sans','Noto Sans CJK SC',sans-serif">亿</tspan></text>
<text font-size="16.1" font-family="'DejaVu Sans','Liberation Sans',sans-serif" fill="#22a45a" stroke="#22a45a" stroke-width="0.45"><tspan x="586.20" y="151.20" textLength="26.60" lengthAdjust="spacing">0.2</tspan><tspan x="613.10" y="151.20" font-weight="bold" stroke="none" textLength="8.80" lengthAdjust="spacingAndGlyphs">%</tspan></text>
<text font-size="16.1" font-family="'DejaVu Sans','Liberation Sans',sans-serif" fill="#22a45a" stroke="#22a45a" stroke-width="0.45"><tspan x="742.75" y="149.10" font-family="'DejaVu Sans',sans-serif" font-size="17.2" textLength="13.20" lengthAdjust="spacingAndGlyphs" fill="#0fa850" stroke="none">▼</tspan><tspan x="758.65" y="151.20" textLength="26.60" lengthAdjust="spacing">0.0</tspan><tspan x="785.55" y="151.20" font-weight="bold" stroke="none" textLength="8.80" lengthAdjust="spacingAndGlyphs">%</tspan></text>
<text font-size="16.9" font-family="'DejaVu Sans','Liberation Sans',sans-serif" fill="#cb212a" stroke="#cb212a" stroke-width="0.45"><tspan x="33.14" y="204.90" textLength="59.12" lengthAdjust="spacing">1.3531</tspan><tspan x="92.56" y="204.90" font-weight="bold" stroke="none" textLength="8.80" lengthAdjust="spacingAndGlyphs">%</tspan></text>
<text font-size="16.9" font-family="'DejaVu Sans','Liberation Sans',sans-serif" fill="#cb212a" stroke="#cb212a" stroke-width="0.45"><tspan x="170.22" y="202.80" font-family="'DejaVu Sans',sans-serif" font-size="17.2" textLength="13.20" lengthAdjust="spacingAndGlyphs" fill="#f00a14" stroke="none">▲</tspan><tspan x="186.12" y="204.90" textLength="26.87" lengthAdjust="spacing">0.1</tspan><tspan x="212.99" y="204.90" textLength="21.78" lengthAdjust="spacing">BP</tspan></text>
<text font-size="16.9" font-family="'DejaVu Sans','Liberation Sans',sans-serif" fill="#cb212a" stroke="#cb212a" stroke-width="0.45"><tspan x="31.73" y="283.60" textLength="53.74" lengthAdjust="spacing">72451</tspan><tspan x="85.47" y="284.20" font-size="17.6" stroke-width="0.32" font-family="'Liberation Sans','Noto Sans CJK SC',sans-serif">亿</tspan></text>
<text font-size="16.9" font-family="'DejaVu Sans','Liberation Sans',sans-serif" fill="#cb212a" stroke="#cb212a" stroke-width="0.45"><tspan x="164.25" y="281.50" font-family="'DejaVu Sans',sans-serif" font-size="17.2" textLength="13.20" lengthAdjust="spacingAndGlyphs" fill="#f00a14" stroke="none">▲</tspan><tspan x="180.15" y="283.60" textLength="42.99" lengthAdjust="spacing">1028</tspan><tspan x="223.15" y="284.20" font-size="17.6" stroke-width="0.32" font-family="'Liberation Sans','Noto Sans CJK SC',sans-serif">亿</tspan></text>
<text font-size="16.1" font-family="'DejaVu Sans','Liberation Sans',sans-serif" fill="#22a45a" stroke="#22a45a" stroke-width="0.45"><tspan x="44.08" y="309.40" textLength="37.24" lengthAdjust="spacing">87.8</tspan><tspan x="81.62" y="309.40" font-weight="bold" stroke="none" textLength="8.80" lengthAdjust="spacingAndGlyphs">%</tspan></text>
<text font-size="16.1" font-family="'DejaVu Sans','Liberation Sans',sans-serif" fill="#22a45a" stroke="#22a45a" stroke-width="0.45"><tspan x="176.55" y="307.30" font-family="'DejaVu Sans',sans-serif" font-size="17.2" textLength="13.20" lengthAdjust="spacingAndGlyphs" fill="#0fa850" stroke="none">▼</tspan><tspan x="192.45" y="309.40" textLength="26.60" lengthAdjust="spacing">2.9</tspan><tspan x="219.35" y="309.40" font-weight="bold" stroke="none" textLength="8.80" lengthAdjust="spacingAndGlyphs">%</tspan></text>
<text font-size="16.9" font-family="'DejaVu Sans','Liberation Sans',sans-serif" fill="#cb212a" stroke="#cb212a" stroke-width="0.45"><tspan x="301.54" y="204.90" textLength="59.12" lengthAdjust="spacing">1.4751</tspan><tspan x="360.96" y="204.90" font-weight="bold" stroke="none" textLength="8.80" lengthAdjust="spacingAndGlyphs">%</tspan></text>
<text font-size="16.9" font-family="'DejaVu Sans','Liberation Sans',sans-serif" fill="#cb212a" stroke="#cb212a" stroke-width="0.45"><tspan x="438.72" y="202.80" font-family="'DejaVu Sans',sans-serif" font-size="17.2" textLength="13.20" lengthAdjust="spacingAndGlyphs" fill="#f00a14" stroke="none">▲</tspan><tspan x="454.62" y="204.90" textLength="26.87" lengthAdjust="spacing">0.6</tspan><tspan x="481.49" y="204.90" textLength="21.78" lengthAdjust="spacing">BP</tspan></text>
<text font-size="16.9" font-family="'DejaVu Sans','Liberation Sans',sans-serif" fill="#cb212a" stroke="#cb212a" stroke-width="0.45"><tspan x="305.50" y="283.60" textLength="42.99" lengthAdjust="spacing">8772</tspan><tspan x="348.50" y="284.20" font-size="17.6" stroke-width="0.32" font-family="'Liberation Sans','Noto Sans CJK SC',sans-serif">亿</tspan></text>
<text font-size="16.9" font-family="'DejaVu Sans','Liberation Sans',sans-serif" fill="#cb212a" stroke="#cb212a" stroke-width="0.45"><tspan x="432.75" y="281.50" font-family="'DejaVu Sans',sans-serif" font-size="17.2" textLength="13.20" lengthAdjust="spacingAndGlyphs" fill="#f00a14" stroke="none">▲</tspan><tspan x="448.65" y="283.60" textLength="42.99" lengthAdjust="spacing">2472</tspan><tspan x="491.65" y="284.20" font-size="17.6" stroke-width="0.32" font-family="'Liberation Sans','Noto Sans CJK SC',sans-serif">亿</tspan></text>
<text font-size="16.1" font-family="'DejaVu Sans','Liberation Sans',sans-serif" fill="#cb212a" stroke="#cb212a" stroke-width="0.45"><tspan x="312.48" y="309.40" textLength="37.24" lengthAdjust="spacing">10.6</tspan><tspan x="350.02" y="309.40" font-weight="bold" stroke="none" textLength="8.80" lengthAdjust="spacingAndGlyphs">%</tspan></text>
<text font-size="16.1" font-family="'DejaVu Sans','Liberation Sans',sans-serif" fill="#cb212a" stroke="#cb212a" stroke-width="0.45"><tspan x="445.05" y="307.30" font-family="'DejaVu Sans',sans-serif" font-size="17.2" textLength="13.20" lengthAdjust="spacingAndGlyphs" fill="#f00a14" stroke="none">▲</tspan><tspan x="460.95" y="309.40" textLength="26.60" lengthAdjust="spacing">2.6</tspan><tspan x="487.85" y="309.40" font-weight="bold" stroke="none" textLength="8.80" lengthAdjust="spacingAndGlyphs">%</tspan></text>
<text font-size="16.9" font-family="'DejaVu Sans','Liberation Sans',sans-serif" fill="#cb212a" stroke="#cb212a" stroke-width="0.45"><tspan x="569.94" y="204.90" textLength="59.12" lengthAdjust="spacing">1.5039</tspan><tspan x="629.36" y="204.90" font-weight="bold" stroke="none" textLength="8.80" lengthAdjust="spacingAndGlyphs">%</tspan></text>
<text font-size="16.9" font-family="'DejaVu Sans','Liberation Sans',sans-serif" fill="#cb212a" stroke="#cb212a" stroke-width="0.45"><tspan x="736.42" y="202.80" font-family="'DejaVu Sans',sans-serif" font-size="17.2" textLength="13.20" lengthAdjust="spacingAndGlyphs" fill="#f00a14" stroke="none">▲</tspan><tspan x="752.32" y="204.90" textLength="26.87" lengthAdjust="spacing">0.3</tspan><tspan x="779.19" y="204.90" textLength="21.78" lengthAdjust="spacing">BP</tspan></text>
<text font-size="16.9" font-family="'DejaVu Sans','Liberation Sans',sans-serif" fill="#cb212a" stroke="#cb212a" stroke-width="0.45"><tspan x="579.28" y="283.60" textLength="32.25" lengthAdjust="spacing">788</tspan><tspan x="611.52" y="284.20" font-size="17.6" stroke-width="0.32" font-family="'Liberation Sans','Noto Sans CJK SC',sans-serif">亿</tspan></text>
<text font-size="16.9" font-family="'DejaVu Sans','Liberation Sans',sans-serif" fill="#cb212a" stroke="#cb212a" stroke-width="0.45"><tspan x="735.83" y="281.50" font-family="'DejaVu Sans',sans-serif" font-size="17.2" textLength="13.20" lengthAdjust="spacingAndGlyphs" fill="#f00a14" stroke="none">▲</tspan><tspan x="751.73" y="283.60" textLength="32.25" lengthAdjust="spacing">111</tspan><tspan x="783.97" y="284.20" font-size="17.6" stroke-width="0.32" font-family="'Liberation Sans','Noto Sans CJK SC',sans-serif">亿</tspan></text>
<text font-size="16.1" font-family="'DejaVu Sans','Liberation Sans',sans-serif" fill="#cb212a" stroke="#cb212a" stroke-width="0.45"><tspan x="586.20" y="309.40" textLength="26.60" lengthAdjust="spacing">1.0</tspan><tspan x="613.10" y="309.40" font-weight="bold" stroke="none" textLength="8.80" lengthAdjust="spacingAndGlyphs">%</tspan></text>
<text font-size="16.1" font-family="'DejaVu Sans','Liberation Sans',sans-serif" fill="#cb212a" stroke="#cb212a" stroke-width="0.45"><tspan x="742.75" y="307.30" font-family="'DejaVu Sans',sans-serif" font-size="17.2" textLength="13.20" lengthAdjust="spacingAndGlyphs" fill="#f00a14" stroke="none">▲</tspan><tspan x="758.65" y="309.40" textLength="26.60" lengthAdjust="spacing">0.1</tspan><tspan x="785.55" y="309.40" font-weight="bold" stroke="none" textLength="8.80" lengthAdjust="spacingAndGlyphs">%</tspan></text>
<text font-size="16.9" font-family="'DejaVu Sans','Liberation Sans',sans-serif" fill="#22a45a" stroke="#22a45a" stroke-width="0.45"><tspan x="38.52" y="363.90" textLength="48.37" lengthAdjust="spacing">1.393</tspan><tspan x="87.18" y="363.90" font-weight="bold" stroke="none" textLength="8.80" lengthAdjust="spacingAndGlyphs">%</tspan></text>
<text font-size="16.9" font-family="'DejaVu Sans','Liberation Sans',sans-serif" fill="#22a45a" stroke="#22a45a" stroke-width="0.45"><tspan x="164.85" y="361.80" font-family="'DejaVu Sans',sans-serif" font-size="17.2" textLength="13.20" lengthAdjust="spacingAndGlyphs" fill="#0fa850" stroke="none">▼</tspan><tspan x="180.75" y="363.90" textLength="37.62" lengthAdjust="spacing">14.0</tspan><tspan x="218.37" y="363.90" textLength="21.78" lengthAdjust="spacing">BP</tspan></text>
<text font-size="16.9" font-family="'DejaVu Sans','Liberation Sans',sans-serif" fill="#cb212a" stroke="#cb212a" stroke-width="0.45"><tspan x="31.73" y="443.10" textLength="53.74" lengthAdjust="spacing">19154</tspan><tspan x="85.47" y="443.70" font-size="17.6" stroke-width="0.32" font-family="'Liberation Sans','Noto Sans CJK SC',sans-serif">亿</tspan></text>
<text font-size="16.9" font-family="'DejaVu Sans','Liberation Sans',sans-serif" fill="#cb212a" stroke="#cb212a" stroke-width="0.45"><tspan x="169.63" y="441.00" font-family="'DejaVu Sans',sans-serif" font-size="17.2" textLength="13.20" lengthAdjust="spacingAndGlyphs" fill="#f00a14" stroke="none">▲</tspan><tspan x="185.53" y="443.10" textLength="32.25" lengthAdjust="spacing">303</tspan><tspan x="217.77" y="443.70" font-size="17.6" stroke-width="0.32" font-family="'Liberation Sans','Noto Sans CJK SC',sans-serif">亿</tspan></text>
<text font-size="16.1" font-family="'DejaVu Sans','Liberation Sans',sans-serif" fill="#22a45a" stroke="#22a45a" stroke-width="0.45"><tspan x="44.08" y="469.40" textLength="37.24" lengthAdjust="spacing">83.3</tspan><tspan x="81.62" y="469.40" font-weight="bold" stroke="none" textLength="8.80" lengthAdjust="spacingAndGlyphs">%</tspan></text>
<text font-size="16.1" font-family="'DejaVu Sans','Liberation Sans',sans-serif" fill="#22a45a" stroke="#22a45a" stroke-width="0.45"><tspan x="171.23" y="467.30" font-family="'DejaVu Sans',sans-serif" font-size="17.2" textLength="13.20" lengthAdjust="spacingAndGlyphs" fill="#0fa850" stroke="none">▼</tspan><tspan x="187.13" y="469.40" textLength="37.24" lengthAdjust="spacing">10.4</tspan><tspan x="224.67" y="469.40" font-weight="bold" stroke="none" textLength="8.80" lengthAdjust="spacingAndGlyphs">%</tspan></text>
<text font-size="16.9" font-family="'DejaVu Sans','Liberation Sans',sans-serif" fill="#22a45a" stroke="#22a45a" stroke-width="0.45"><tspan x="306.92" y="363.90" textLength="48.37" lengthAdjust="spacing">1.478</tspan><tspan x="355.58" y="363.90" font-weight="bold" stroke="none" textLength="8.80" lengthAdjust="spacingAndGlyphs">%</tspan></text>
<text font-size="16.9" font-family="'DejaVu Sans','Liberation Sans',sans-serif" fill="#22a45a" stroke="#22a45a" stroke-width="0.45"><tspan x="438.72" y="361.80" font-family="'DejaVu Sans',sans-serif" font-size="17.2" textLength="13.20" lengthAdjust="spacingAndGlyphs" fill="#0fa850" stroke="none">▼</tspan><tspan x="454.62" y="363.90" textLength="26.87" lengthAdjust="spacing">1.3</tspan><tspan x="481.49" y="363.90" textLength="21.78" lengthAdjust="spacing">BP</tspan></text>
<text font-size="16.9" font-family="'DejaVu Sans','Liberation Sans',sans-serif" fill="#cb212a" stroke="#cb212a" stroke-width="0.45"><tspan x="305.50" y="443.10" textLength="42.99" lengthAdjust="spacing">3520</tspan><tspan x="348.50" y="443.70" font-size="17.6" stroke-width="0.32" font-family="'Liberation Sans','Noto Sans CJK SC',sans-serif">亿</tspan></text>
<text font-size="16.9" font-family="'DejaVu Sans','Liberation Sans',sans-serif" fill="#cb212a" stroke="#cb212a" stroke-width="0.45"><tspan x="432.75" y="441.00" font-family="'DejaVu Sans',sans-serif" font-size="17.2" textLength="13.20" lengthAdjust="spacingAndGlyphs" fill="#f00a14" stroke="none">▲</tspan><tspan x="448.65" y="443.10" textLength="42.99" lengthAdjust="spacing">2394</tspan><tspan x="491.65" y="443.70" font-size="17.6" stroke-width="0.32" font-family="'Liberation Sans','Noto Sans CJK SC',sans-serif">亿</tspan></text>
<text font-size="16.1" font-family="'DejaVu Sans','Liberation Sans',sans-serif" fill="#cb212a" stroke="#cb212a" stroke-width="0.45"><tspan x="312.48" y="469.40" textLength="37.24" lengthAdjust="spacing">15.3</tspan><tspan x="350.02" y="469.40" font-weight="bold" stroke="none" textLength="8.80" lengthAdjust="spacingAndGlyphs">%</tspan></text>
<text font-size="16.1" font-family="'DejaVu Sans','Liberation Sans',sans-serif" fill="#cb212a" stroke="#cb212a" stroke-width="0.45"><tspan x="445.05" y="467.30" font-family="'DejaVu Sans',sans-serif" font-size="17.2" textLength="13.20" lengthAdjust="spacingAndGlyphs" fill="#f00a14" stroke="none">▲</tspan><tspan x="460.95" y="469.40" textLength="26.60" lengthAdjust="spacing">9.7</tspan><tspan x="487.85" y="469.40" font-weight="bold" stroke="none" textLength="8.80" lengthAdjust="spacingAndGlyphs">%</tspan></text>
<text font-size="16.9" font-family="'DejaVu Sans','Liberation Sans',sans-serif" fill="#22a45a" stroke="#22a45a" stroke-width="0.45"><tspan x="575.32" y="363.90" textLength="48.37" lengthAdjust="spacing">1.489</tspan><tspan x="623.98" y="363.90" font-weight="bold" stroke="none" textLength="8.80" lengthAdjust="spacingAndGlyphs">%</tspan></text>
<text font-size="16.9" font-family="'DejaVu Sans','Liberation Sans',sans-serif" fill="#22a45a" stroke="#22a45a" stroke-width="0.45"><tspan x="736.42" y="361.80" font-family="'DejaVu Sans',sans-serif" font-size="17.2" textLength="13.20" lengthAdjust="spacingAndGlyphs" fill="#0fa850" stroke="none">▼</tspan><tspan x="752.32" y="363.90" textLength="26.87" lengthAdjust="spacing">1.1</tspan><tspan x="779.19" y="363.90" textLength="21.78" lengthAdjust="spacing">BP</tspan></text>
<text font-size="16.9" font-family="'DejaVu Sans','Liberation Sans',sans-serif" fill="#cb212a" stroke="#cb212a" stroke-width="0.45"><tspan x="579.28" y="443.10" textLength="32.25" lengthAdjust="spacing">307</tspan><tspan x="611.52" y="443.70" font-size="17.6" stroke-width="0.32" font-family="'Liberation Sans','Noto Sans CJK SC',sans-serif">亿</tspan></text>
<text font-size="16.9" font-family="'DejaVu Sans','Liberation Sans',sans-serif" fill="#cb212a" stroke="#cb212a" stroke-width="0.45"><tspan x="735.83" y="441.00" font-family="'DejaVu Sans',sans-serif" font-size="17.2" textLength="13.20" lengthAdjust="spacingAndGlyphs" fill="#f00a14" stroke="none">▲</tspan><tspan x="751.73" y="443.10" textLength="32.25" lengthAdjust="spacing">175</tspan><tspan x="783.97" y="443.70" font-size="17.6" stroke-width="0.32" font-family="'Liberation Sans','Noto Sans CJK SC',sans-serif">亿</tspan></text>
<text font-size="16.1" font-family="'DejaVu Sans','Liberation Sans',sans-serif" fill="#cb212a" stroke="#cb212a" stroke-width="0.45"><tspan x="586.20" y="469.40" textLength="26.60" lengthAdjust="spacing">1.3</tspan><tspan x="613.10" y="469.40" font-weight="bold" stroke="none" textLength="8.80" lengthAdjust="spacingAndGlyphs">%</tspan></text>
<text font-size="16.1" font-family="'DejaVu Sans','Liberation Sans',sans-serif" fill="#cb212a" stroke="#cb212a" stroke-width="0.45"><tspan x="742.75" y="467.30" font-family="'DejaVu Sans',sans-serif" font-size="17.2" textLength="13.20" lengthAdjust="spacingAndGlyphs" fill="#f00a14" stroke="none">▲</tspan><tspan x="758.65" y="469.40" textLength="26.60" lengthAdjust="spacing">0.7</tspan><tspan x="785.55" y="469.40" font-weight="bold" stroke="none" textLength="8.80" lengthAdjust="spacingAndGlyphs">%</tspan></text>
<text font-size="16.9" font-family="'DejaVu Sans','Liberation Sans',sans-serif" fill="#cb212a" stroke="#cb212a" stroke-width="0.45"><tspan x="31.73" y="522.70" textLength="53.74" lengthAdjust="spacing">26750</tspan><tspan x="85.47" y="523.30" font-size="17.6" stroke-width="0.32" font-family="'Liberation Sans','Noto Sans CJK SC',sans-serif">亿</tspan></text>
<text font-size="16.9" font-family="'DejaVu Sans','Liberation Sans',sans-serif" fill="#cb212a" stroke="#cb212a" stroke-width="0.45"><tspan x="164.25" y="520.60" font-family="'DejaVu Sans',sans-serif" font-size="17.2" textLength="13.20" lengthAdjust="spacingAndGlyphs" fill="#f00a14" stroke="none">▲</tspan><tspan x="180.15" y="522.70" textLength="42.99" lengthAdjust="spacing">1735</tspan><tspan x="223.15" y="523.30" font-size="17.6" stroke-width="0.32" font-family="'Liberation Sans','Noto Sans CJK SC',sans-serif">亿</tspan></text>
<text font-size="16.9" font-family="'DejaVu Sans','Liberation Sans',sans-serif" fill="#cb212a" stroke="#cb212a" stroke-width="0.45"><tspan x="312.29" y="522.70" textLength="37.62" lengthAdjust="spacing">32.4</tspan><tspan x="350.21" y="522.70" font-weight="bold" stroke="none" textLength="8.80" lengthAdjust="spacingAndGlyphs">%</tspan></text>
<text font-size="16.9" font-family="'DejaVu Sans','Liberation Sans',sans-serif" fill="#cb212a" stroke="#cb212a" stroke-width="0.45"><tspan x="444.91" y="520.60" font-family="'DejaVu Sans',sans-serif" font-size="17.2" textLength="13.20" lengthAdjust="spacingAndGlyphs" fill="#f00a14" stroke="none">▲</tspan><tspan x="460.81" y="522.70" textLength="26.87" lengthAdjust="spacing">0.7</tspan><tspan x="487.99" y="522.70" font-weight="bold" stroke="none" textLength="8.80" lengthAdjust="spacingAndGlyphs">%</tspan></text>
<text font-size="16.9" font-family="'DejaVu Sans','Liberation Sans',sans-serif" fill="#cb212a" stroke="#cb212a" stroke-width="0.45"><tspan x="568.53" y="522.70" textLength="53.74" lengthAdjust="spacing">22982</tspan><tspan x="622.27" y="523.30" font-size="17.6" stroke-width="0.32" font-family="'Liberation Sans','Noto Sans CJK SC',sans-serif">亿</tspan></text>
<text font-size="16.9" font-family="'DejaVu Sans','Liberation Sans',sans-serif" fill="#cb212a" stroke="#cb212a" stroke-width="0.45"><tspan x="730.45" y="520.60" font-family="'DejaVu Sans',sans-serif" font-size="17.2" textLength="13.20" lengthAdjust="spacingAndGlyphs" fill="#f00a14" stroke="none">▲</tspan><tspan x="746.35" y="522.70" textLength="42.99" lengthAdjust="spacing">2872</tspan><tspan x="789.35" y="523.30" font-size="17.6" stroke-width="0.32" font-family="'Liberation Sans','Noto Sans CJK SC',sans-serif">亿</tspan></text>
<text font-size="16.9" font-family="'DejaVu Sans','Liberation Sans',sans-serif" fill="#cb212a" stroke="#cb212a" stroke-width="0.45"><tspan x="31.73" y="629.40" textLength="53.74" lengthAdjust="spacing">82498</tspan><tspan x="85.47" y="630.00" font-size="17.6" stroke-width="0.32" font-family="'Liberation Sans','Noto Sans CJK SC',sans-serif">亿</tspan></text>
<text font-size="16.9" font-family="'DejaVu Sans','Liberation Sans',sans-serif" fill="#cb212a" stroke="#cb212a" stroke-width="0.45"><tspan x="164.25" y="627.30" font-family="'DejaVu Sans',sans-serif" font-size="17.2" textLength="13.20" lengthAdjust="spacingAndGlyphs" fill="#f00a14" stroke="none">▲</tspan><tspan x="180.15" y="629.40" textLength="42.99" lengthAdjust="spacing">3768</tspan><tspan x="223.15" y="630.00" font-size="17.6" stroke-width="0.32" font-family="'Liberation Sans','Noto Sans CJK SC',sans-serif">亿</tspan></text>
<text font-size="16.9" font-family="'DejaVu Sans','Liberation Sans',sans-serif" fill="#cb212a" stroke="#cb212a" stroke-width="0.45"><tspan x="305.50" y="629.40" textLength="42.99" lengthAdjust="spacing">4537</tspan><tspan x="348.50" y="630.00" font-size="17.6" stroke-width="0.32" font-family="'Liberation Sans','Noto Sans CJK SC',sans-serif">亿</tspan></text>
<text font-size="16.9" font-family="'DejaVu Sans','Liberation Sans',sans-serif" fill="#cb212a" stroke="#cb212a" stroke-width="0.45"><tspan x="438.13" y="627.30" font-family="'DejaVu Sans',sans-serif" font-size="17.2" textLength="13.20" lengthAdjust="spacingAndGlyphs" fill="#f00a14" stroke="none">▲</tspan><tspan x="454.03" y="629.40" textLength="32.25" lengthAdjust="spacing">671</tspan><tspan x="486.27" y="630.00" font-size="17.6" stroke-width="0.32" font-family="'Liberation Sans','Noto Sans CJK SC',sans-serif">亿</tspan></text>
<text font-size="16.9" font-family="'DejaVu Sans','Liberation Sans',sans-serif" fill="#cb212a" stroke="#cb212a" stroke-width="0.45"><tspan x="579.28" y="629.40" textLength="32.25" lengthAdjust="spacing">396</tspan><tspan x="611.52" y="630.00" font-size="17.6" stroke-width="0.32" font-family="'Liberation Sans','Noto Sans CJK SC',sans-serif">亿</tspan></text>
<text font-size="16.9" font-family="'DejaVu Sans','Liberation Sans',sans-serif" fill="#cb212a" stroke="#cb212a" stroke-width="0.45"><tspan x="741.20" y="627.30" font-family="'DejaVu Sans',sans-serif" font-size="17.2" textLength="13.20" lengthAdjust="spacingAndGlyphs" fill="#f00a14" stroke="none">▲</tspan><tspan x="757.10" y="629.40" textLength="21.50" lengthAdjust="spacing">50</tspan><tspan x="778.60" y="630.00" font-size="17.6" stroke-width="0.32" font-family="'Liberation Sans','Noto Sans CJK SC',sans-serif">亿</tspan></text>
<text font-size="16.9" font-family="'DejaVu Sans','Liberation Sans',sans-serif" fill="#111111" stroke="#111111" stroke-width="0.65"><tspan x="51.13" y="735.80" textLength="10.75" lengthAdjust="spacing">4</tspan><tspan x="61.88" y="735.80" textLength="21.78" lengthAdjust="spacing">BP</tspan></text>
<text font-size="16.9" font-family="'DejaVu Sans','Liberation Sans',sans-serif" fill="#111111" stroke="#111111" stroke-width="0.65"><tspan x="199.45" y="735.80" textLength="6.10" lengthAdjust="spacing">-</tspan></text>
<text font-size="16.9" font-family="'DejaVu Sans','Liberation Sans',sans-serif" fill="#111111" stroke="#111111" stroke-width="0.65"><tspan x="319.53" y="735.80" textLength="10.75" lengthAdjust="spacing">5</tspan><tspan x="330.28" y="735.80" textLength="21.78" lengthAdjust="spacing">BP</tspan></text>
<text font-size="16.9" font-family="'DejaVu Sans','Liberation Sans',sans-serif" fill="#111111" stroke="#111111" stroke-width="0.65"><tspan x="467.95" y="735.80" textLength="6.10" lengthAdjust="spacing">-</tspan></text>
<text font-size="16.9" font-family="'DejaVu Sans','Liberation Sans',sans-serif" fill="#cb212a" stroke="#cb212a" stroke-width="0.45"><tspan x="587.93" y="735.80" textLength="10.75" lengthAdjust="spacing">6</tspan><tspan x="598.68" y="735.80" textLength="21.78" lengthAdjust="spacing">BP</tspan></text>
<text font-size="16.9" font-family="'DejaVu Sans','Liberation Sans',sans-serif" fill="#cb212a" stroke="#cb212a" stroke-width="0.45"><tspan x="744.48" y="733.70" font-family="'DejaVu Sans',sans-serif" font-size="17.2" textLength="13.20" lengthAdjust="spacingAndGlyphs" fill="#f00a14" stroke="none">▲</tspan><tspan x="760.38" y="735.80" textLength="10.75" lengthAdjust="spacing">3</tspan><tspan x="771.13" y="735.80" textLength="21.78" lengthAdjust="spacing">BP</tspan></text>
</svg>
</body></html>
